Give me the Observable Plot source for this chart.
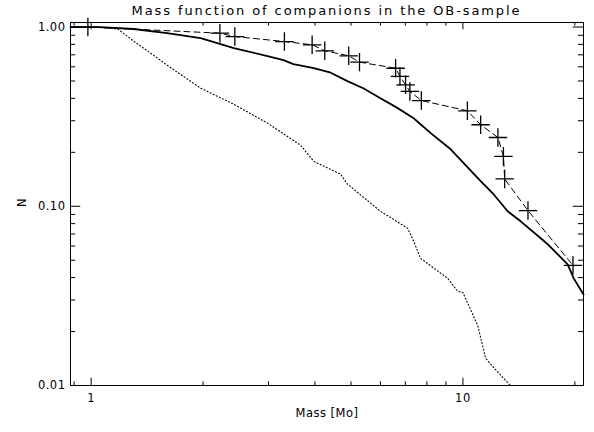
<!DOCTYPE html>
<html><head><meta charset="utf-8">
<script src="https://cdn.jsdelivr.net/npm/d3@7"></script>
<script src="https://cdn.jsdelivr.net/npm/@observablehq/plot@0.6"></script>
<style>
body{margin:0;background:#fff;}
#chart{width:594px;height:432px;position:relative;background:#fff;}
#title{height:18px;padding-left:70px;width:513px;text-align:center;font-family:"DejaVu Sans";font-size:13px;letter-spacing:1.9px;line-height:22px;color:#000;white-space:nowrap;}
svg{display:block;overflow:visible;}
svg text{letter-spacing:0.5px;}
</style></head><body>
<div id="chart"><div id="title">Mass function of companions in the OB-sample</div></div>
<script>
// ---- data ----
const xMajorTicks = [1, 10];
const xMinorTicks = [0.9, 2, 3, 4, 5, 6, 7, 8, 9, 20];
const yMajorTicks = [0.01, 0.1, 1];
const yMinorTicks = [0.02,0.03,0.04,0.05,0.06,0.07,0.08,0.09,0.2,0.3,0.4,0.5,0.6,0.7,0.8,0.9];
const xTickLabels = ["1", "10"];
const yTickLabels = ["0.01", "0.10", "1.00"];

// observed companions (+ markers, dashed line)
const obsMass = [0.98, 2.22, 2.435, 3.31, 3.93, 4.25, 4.93, 5.27, 6.59, 6.77, 7.01, 7.20, 7.73, 10.28, 11.16, 12.42, 12.85, 12.95, 14.96, 19.77];
const obsN    = [1.0, 0.924, 0.885, 0.830, 0.796, 0.737, 0.691, 0.637, 0.589, 0.530, 0.476, 0.437, 0.389, 0.341, 0.285, 0.242, 0.190, 0.142, 0.0946, 0.0468];
const dashStartMass = 0.90, dashStartN = 1.0;

// solid curve
const solidMass = [0.88, 1.06, 1.30, 1.60, 1.97, 2.23, 2.42, 2.98, 3.29, 3.50, 3.97, 4.41, 4.89, 5.41, 6.00, 6.66, 7.37, 8.19, 9.27, 11.16, 12.12, 13.19, 14.30, 16.19, 16.9, 19.13, 19.86, 21.1];
const solidN    = [1.0, 1.0, 0.975, 0.926, 0.868, 0.804, 0.763, 0.689, 0.654, 0.621, 0.590, 0.556, 0.499, 0.454, 0.401, 0.354, 0.310, 0.256, 0.208, 0.138, 0.116, 0.0938, 0.0824, 0.0663, 0.0614, 0.0474, 0.0396, 0.0322];

// dotted curve
const dotMass = [0.88, 1.03, 1.18, 1.30, 1.444, 1.60, 1.97, 2.42, 2.98, 3.66, 3.97, 4.69, 4.89, 6.00, 7.10, 7.37, 7.69, 9.10, 9.68, 10.0, 10.96, 11.51, 12.09, 13.4];
const dotN    = [1.0, 1.0, 0.975, 0.835, 0.716, 0.613, 0.456, 0.371, 0.291, 0.219, 0.178, 0.151, 0.133, 0.0938, 0.0754, 0.0638, 0.0512, 0.0396, 0.0335, 0.033, 0.0216, 0.0142, 0.0126, 0.010];

// ---- build tables ----
const obs = obsMass.map((m, i) => ({m, n: obsN[i]}));
const obsLine = [{m: dashStartMass, n: dashStartN}, ...obs];
const solid = solidMass.map((m, i) => ({m, n: solidN[i]}));
const dotted = dotMass.map((m, i) => ({m, n: dotN[i]}));

const W = 594, H = 414, mT = 4, mB = 47, mL = 70, mR = 11;
const innerH = H - mT - mB, innerW = W - mL - mR;
const xMaj = innerH * 0.02, xMin = xMaj / 2, yMaj = innerW * 0.02, yMin = yMaj / 2;
const tk = {stroke: "#000", strokeWidth: 1};

const chart = Plot.plot({
  width: W, height: H,
  marginTop: mT, marginBottom: mB, marginLeft: mL, marginRight: mR,
  x: {type: "log", domain: [0.88, 21.1], axis: null},
  y: {type: "log", domain: [0.01, 1.06], axis: null},
  style: {fontFamily: "DejaVu Sans", fontSize: "11.5px", color: "#000", background: "#fff"},
  marks: [
    Plot.line(dotted, {x: "m", y: "n", stroke: "#000", strokeWidth: 1.1, strokeDasharray: "1,2.4"}),
    Plot.line(solid, {x: "m", y: "n", stroke: "#000", strokeWidth: 1.8}),
    Plot.line(obsLine, {x: "m", y: "n", stroke: "#000", strokeWidth: 1, strokeDasharray: "6,4"}),
    Plot.dot(obs, {x: "m", y: "n", symbol: "plus", r: 6, stroke: "#000", fill: "none", strokeWidth: 1.3}),
    Plot.frame({stroke: "#000", strokeWidth: 1}),
    // bottom / top ticks
    Plot.tickX(xMajorTicks, {x: d => d, insetTop: innerH - xMaj, ...tk}),
    Plot.tickX(xMinorTicks, {x: d => d, insetTop: innerH - xMin, ...tk}),
    Plot.tickX(xMajorTicks, {x: d => d, insetBottom: innerH - xMaj, ...tk}),
    Plot.tickX(xMinorTicks, {x: d => d, insetBottom: innerH - xMin, ...tk}),
    // left / right ticks
    Plot.tickY(yMajorTicks, {y: d => d, insetRight: innerW - yMaj, ...tk}),
    Plot.tickY(yMinorTicks, {y: d => d, insetRight: innerW - yMin, ...tk}),
    Plot.tickY(yMajorTicks, {y: d => d, insetLeft: innerW - yMaj, ...tk}),
    Plot.tickY(yMinorTicks, {y: d => d, insetLeft: innerW - yMin, ...tk}),
    // tick labels
    Plot.text(xMajorTicks, {x: d => d, text: (d, i) => xTickLabels[i], frameAnchor: "bottom", dy: 16, fill: "#000", fontSize: 11.5}),
    Plot.text(yMajorTicks, {y: d => d, text: (d, i) => yTickLabels[i], frameAnchor: "left", dx: -5, textAnchor: "end", fill: "#000", fontSize: 11.5}),
    // axis titles
    Plot.text(["Mass [Mo]"], {text: d => d, frameAnchor: "bottom", dy: 31, fill: "#000", fontSize: 11.5}),
    Plot.text(["N"], {text: d => d, frameAnchor: "left", dx: -48.5, dy: 3, rotate: -90, fill: "#000", fontSize: 11.5})
  ]
});
document.getElementById("chart").appendChild(chart);
</script>
</body></html>
